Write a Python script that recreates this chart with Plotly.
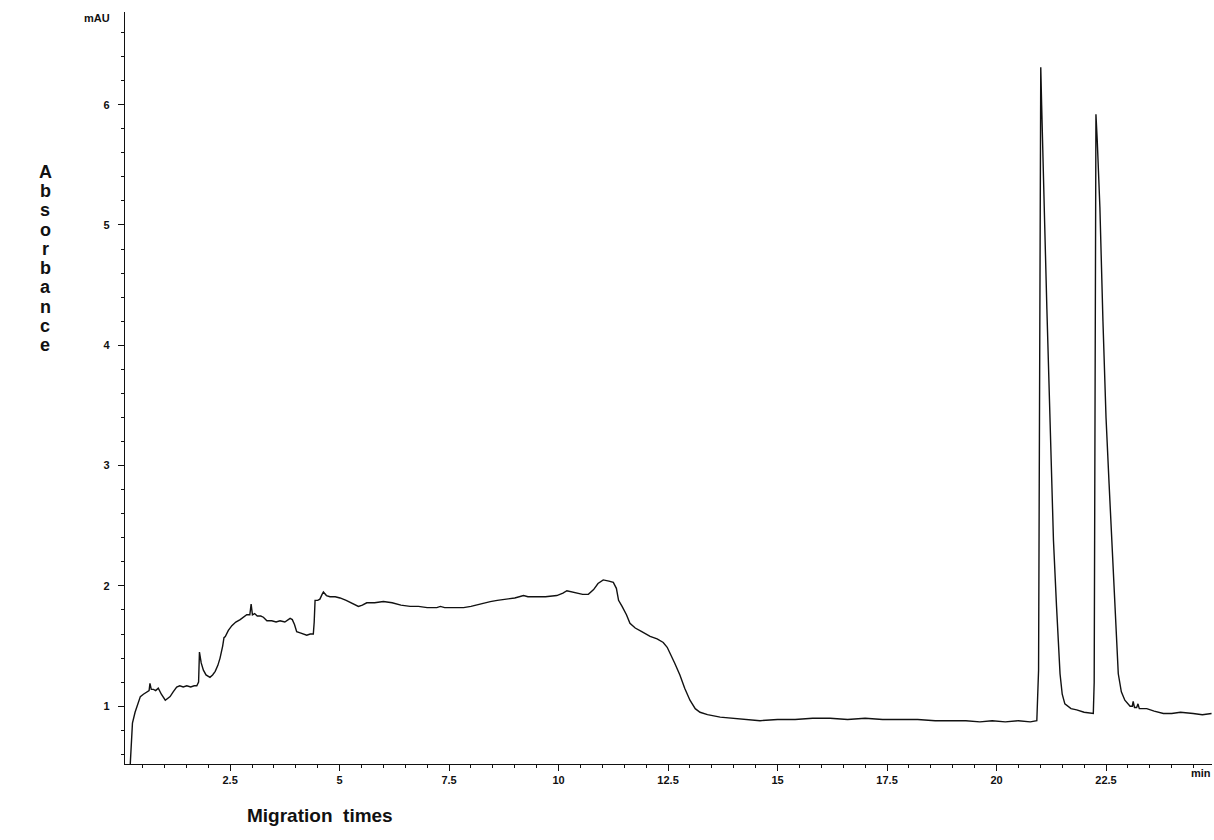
import plotly.graph_objects as go

# Electropherogram trace
times = [0.22, 0.24, 0.27, 0.33, 0.40, 0.45, 0.52, 0.60, 0.65, 0.67, 0.70, 0.75, 0.80, 0.86, 0.93,
         1.02, 1.08, 1.13, 1.20, 1.28, 1.35, 1.43, 1.51, 1.60, 1.68, 1.74, 1.78, 1.80, 1.84, 1.89,
         1.95, 2.04, 2.10, 2.16, 2.22, 2.27, 2.33, 2.36, 2.39, 2.46, 2.54, 2.63, 2.73, 2.80, 2.88,
         2.95, 2.98, 3.01, 3.06, 3.12, 3.20, 3.26, 3.34, 3.45, 3.55, 3.64, 3.75, 3.87, 3.92, 3.97,
         4.02, 4.10, 4.17, 4.25, 4.33, 4.40, 4.42, 4.44, 4.50, 4.55, 4.60, 4.63, 4.70, 4.78, 4.90,
         5.01, 5.15, 5.32, 5.43, 5.52, 5.62, 5.80, 6.00, 6.20, 6.40, 6.61, 6.80, 7.00, 7.22, 7.30,
         7.40, 7.60, 7.83, 8.00, 8.20, 8.44, 8.60, 8.80, 9.00, 9.20, 9.30, 9.50, 9.70, 9.96, 10.10,
         10.19, 10.30, 10.42, 10.55, 10.68, 10.80, 10.90, 11.02, 11.15, 11.25, 11.32, 11.37, 11.45,
         11.55, 11.63, 11.75, 11.90, 12.09, 12.25, 12.39, 12.48, 12.55, 12.65, 12.77, 12.88, 13.00,
         13.12, 13.23, 13.40, 13.69, 14.00, 14.30, 14.60, 15.00, 15.40, 15.80, 16.20, 16.60, 17.00,
         17.40, 17.80, 18.20, 18.60, 19.00, 19.30, 19.62, 19.90, 20.20, 20.50, 20.77, 20.92, 20.96,
         20.98, 21.00, 21.01, 21.03, 21.06, 21.10, 21.15, 21.20, 21.25, 21.30, 21.37, 21.45, 21.50,
         21.56, 21.70, 21.83, 22.00, 22.21, 22.23, 22.25, 22.26, 22.27, 22.30, 22.36, 22.43, 22.50,
         22.57, 22.63, 22.71, 22.78, 22.85, 22.93, 23.05, 23.10, 23.12, 23.15, 23.20, 23.23, 23.26,
         23.43, 23.60, 23.81, 24.00, 24.20, 24.49, 24.70, 24.91]
absorbance = [0.52, 0.70, 0.86, 0.95, 1.03, 1.08, 1.10, 1.12, 1.13, 1.19, 1.14, 1.14, 1.13, 1.15, 1.10,
              1.05, 1.07, 1.08, 1.12, 1.16, 1.17, 1.16, 1.17, 1.16, 1.17, 1.17, 1.20, 1.45, 1.36, 1.30,
              1.26, 1.24, 1.26, 1.29, 1.34, 1.40, 1.50, 1.57, 1.58, 1.63, 1.67, 1.70, 1.72, 1.74, 1.76,
              1.76, 1.85, 1.76, 1.77, 1.75, 1.75, 1.74, 1.71, 1.71, 1.70, 1.71, 1.70, 1.73, 1.72, 1.68,
              1.62, 1.61, 1.60, 1.59, 1.60, 1.60, 1.70, 1.88, 1.88, 1.89, 1.93, 1.95, 1.92, 1.91, 1.91,
              1.90, 1.88, 1.85, 1.83, 1.84, 1.86, 1.86, 1.87, 1.86, 1.84, 1.83, 1.83, 1.82, 1.82, 1.83,
              1.82, 1.82, 1.82, 1.83, 1.85, 1.87, 1.88, 1.89, 1.90, 1.92, 1.91, 1.91, 1.91, 1.92, 1.94,
              1.96, 1.95, 1.94, 1.93, 1.93, 1.97, 2.02, 2.05, 2.04, 2.03, 1.98, 1.88, 1.83,
              1.76, 1.69, 1.65, 1.62, 1.58, 1.56, 1.53, 1.49, 1.44, 1.36, 1.26, 1.15, 1.05,
              0.98, 0.95, 0.93, 0.91, 0.90, 0.89, 0.88, 0.89, 0.89, 0.90, 0.90, 0.89, 0.90,
              0.89, 0.89, 0.89, 0.88, 0.88, 0.88, 0.87, 0.88, 0.87, 0.88, 0.87, 0.88, 1.30,
              3.00, 5.50, 6.31, 6.00, 5.50, 5.00, 4.30, 3.60, 2.95, 2.38, 1.83, 1.27, 1.10,
              1.02, 0.98, 0.97, 0.95, 0.94, 1.20, 3.00, 5.00, 5.92, 5.70, 5.15, 4.20, 3.40,
              2.85, 2.38, 1.74, 1.27, 1.12, 1.05, 1.00, 1.00, 1.04, 0.99, 0.99, 1.02, 0.98,
              0.98, 0.96, 0.94, 0.94, 0.95, 0.94, 0.93, 0.94]

x_tick_vals = [2.5, 5, 7.5, 10, 12.5, 15, 17.5, 20, 22.5]
x_tick_text = ["2.5", "5", "7.5", "10", "12.5", "15", "17.5", "20", "22.5"]
y_tick_vals = [1, 2, 3, 4, 5, 6]
y_tick_text = ["1", "2", "3", "4", "5", "6"]
y_title_letters = list("Absorbance")

W, H = 1214, 840
L, R, T, B = 125, 2, 12, 76

fig = go.Figure()
fig.add_trace(go.Scatter(x=times, y=absorbance, mode="lines",
                         line=dict(color="#111111", width=1.4), showlegend=False,
                         hoverinfo="skip"))

FONT = "Liberation Sans, Arial, sans-serif"
tickfont = dict(family=FONT, size=11, color="#111111", weight="bold")

fig.update_layout(
    width=W, height=H,
    margin=dict(l=L, r=R, t=T, b=B),
    paper_bgcolor="white", plot_bgcolor="white",
    xaxis=dict(range=[0.1, 24.92], tickvals=x_tick_vals, ticktext=x_tick_text,
               ticks="outside", ticklen=6, tickwidth=1, tickcolor="#111111",
               showline=True, linecolor="#111111", linewidth=1.2,
               showgrid=False, zeroline=False, tickfont=tickfont,
               minor=dict(dtick=0.5, tick0=0, ticks="outside", ticklen=3,
                          tickcolor="#111111", showgrid=False)),
    yaxis=dict(range=[0.52, 6.77], tickvals=y_tick_vals, ticktext=y_tick_text,
               ticks="outside", ticklen=6, tickwidth=1, tickcolor="#111111",
               showline=True, linecolor="#111111", linewidth=1.2,
               showgrid=False, zeroline=False, tickfont=tickfont,
               ticklabelstandoff=6,
               minor=dict(dtick=0.2, tick0=0, ticks="outside", ticklen=3,
                          tickcolor="#111111", showgrid=False)),
)

pw = W - L - R
ph = H - T - B

def px_x(p):
    return (p - L) / pw

def px_y(p):
    return 1 - (p - T) / ph

annots = []
annots.append(dict(text="mAU", x=px_x(112), y=px_y(18), xref="paper", yref="paper",
                   xanchor="right", yanchor="middle", showarrow=False,
                   font=dict(family=FONT, size=11, color="#111111", weight="bold")))
annots.append(dict(text="min", x=px_x(1213), y=px_y(773), xref="paper", yref="paper",
                   xanchor="right", yanchor="middle", showarrow=False,
                   font=dict(family=FONT, size=11, color="#111111", weight="bold")))
annots.append(dict(text="Migration  times", x=px_x(245), y=px_y(815), xref="paper", yref="paper",
                   xanchor="left", yanchor="middle", showarrow=False,
                   font=dict(family=FONT, size=19, color="#111111", weight="bold")))
n = len(y_title_letters)
y0, y1 = 172, 345
for i, ch in enumerate(y_title_letters):
    yy = y0 + (y1 - y0) * i / (n - 1)
    annots.append(dict(text=ch, x=px_x(45), y=px_y(yy), xref="paper", yref="paper",
                       xanchor="center", yanchor="middle", showarrow=False,
                       font=dict(family=FONT, size=18, color="#111111", weight="bold")))
fig.update_layout(annotations=annots)

fig.write_html("out.html", config={"displayModeBar": False},
               post_script="document.body.style.margin='0px';document.body.style.overflow='hidden';")
